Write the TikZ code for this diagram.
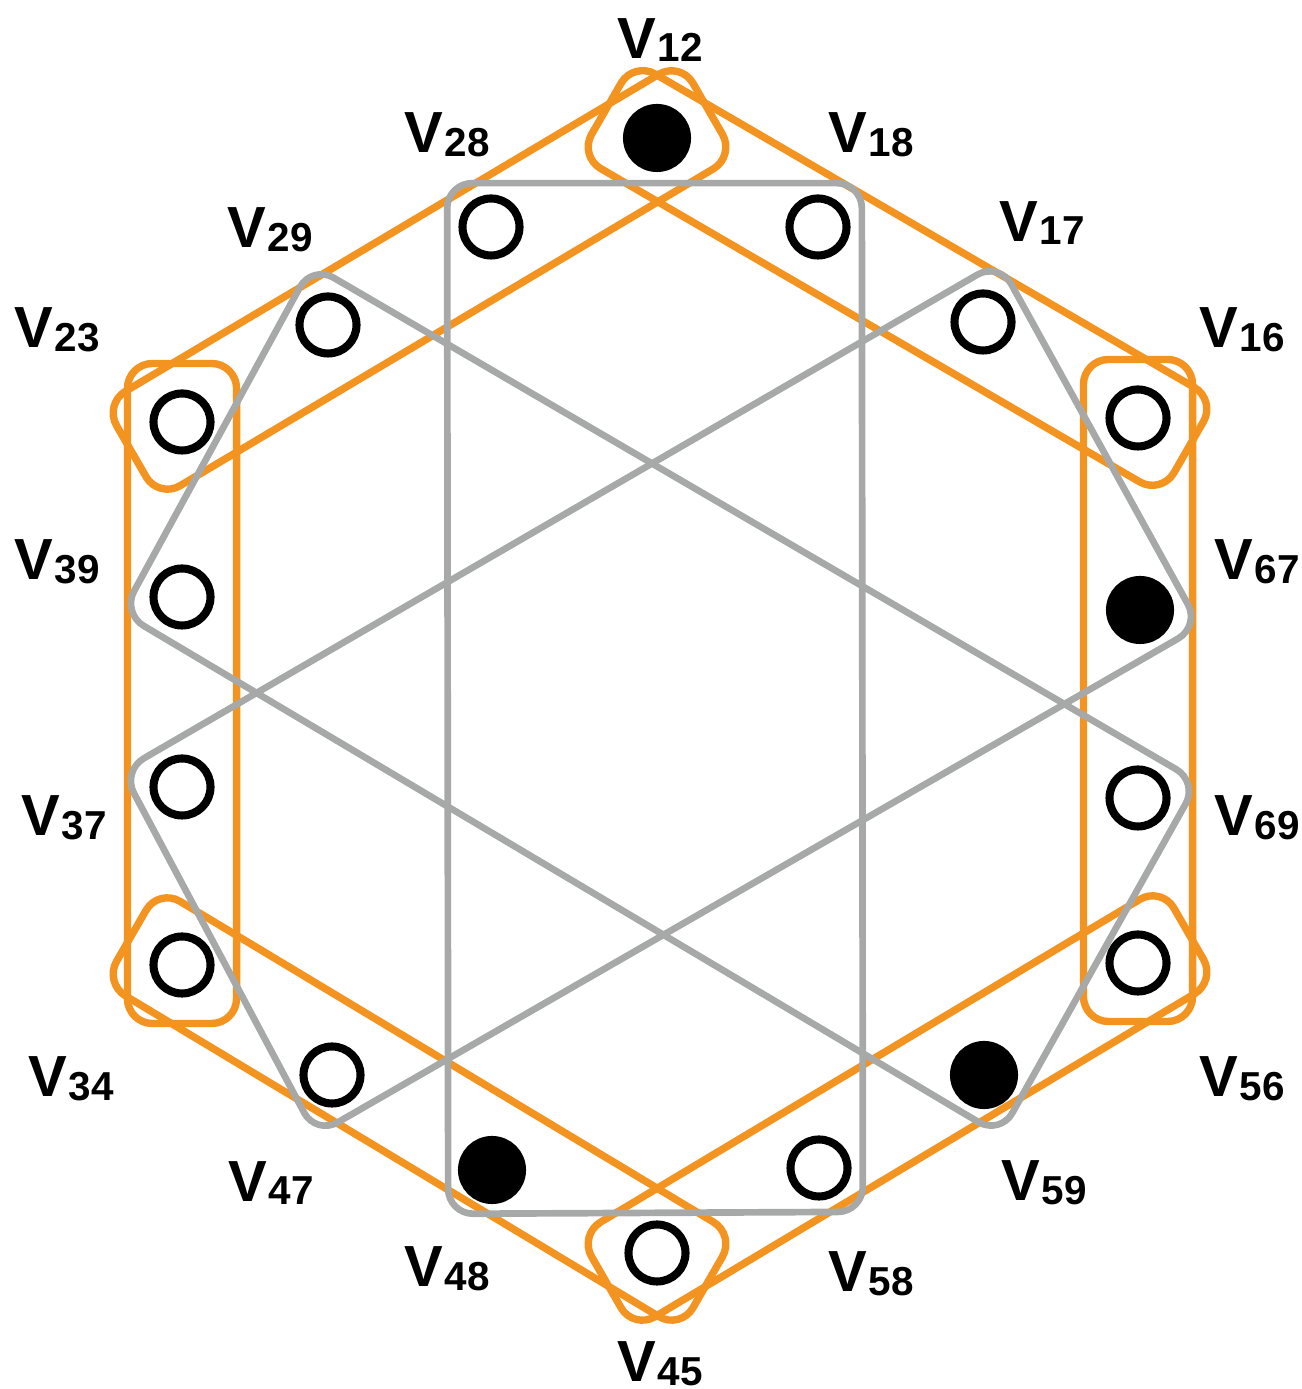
\documentclass[tikz,border=0pt]{standalone}
\usepackage{fontspec}
\setmainfont{Liberation Sans}
\usepackage{xcolor}
\usepackage{tikz}
\usetikzlibrary{calc,backgrounds}

\definecolor{hyorange}{RGB}{243,148,32}
\definecolor{hygray}{RGB}{167,169,168}
\newcommand{\vlab}[1]{{\fontsize{16.5}{17}\selectfont\bfseries V}\kern0.6pt{\fontsize{11.5}{12}\selectfont\bfseries\raisebox{-1pt}{#1}}}

\begin{document}
\begin{tikzpicture}[
  openv/.style={circle, draw=black, fill=white, line width=2.3pt,
                inner sep=0pt, minimum size=0.57cm},
  fullv/.style={openv, fill=black, minimum size=0.6cm},
  lab/.style={inner sep=0pt},
  oedge/.style={draw=hyorange, line width=2.1pt, rounded corners=0.25cm},
  gedge/.style={draw=hygray, line width=1.9pt, rounded corners=0.25cm}
]
\useasboundingbox (0,0) rectangle (13.01,13.89);

\node (v12) [fullv] at (6.57,12.51) {};
\node (v28) [openv] at (4.91,11.62) {};
\node (v18) [openv] at (8.18,11.62) {};
\node (v29) [openv] at (3.28,10.64) {};
\node (v17) [openv] at (9.83,10.67) {};
\node (v23) [openv] at (1.82,9.67) {};
\node (v16) [openv] at (11.38,9.71) {};
\node (v39) [openv] at (1.82,7.92) {};
\node (v67) [fullv] at (11.40,7.79) {};
\node (v37) [openv] at (1.82,6.02) {};
\node (v69) [openv] at (11.38,5.91) {};
\node (v34) [openv] at (1.82,4.24) {};
\node (v56) [openv] at (11.38,4.26) {};
\node (v47) [openv] at (3.32,3.14) {};
\node (v59) [fullv] at (9.84,3.14) {};
\node (v48) [fullv] at (4.92,2.19) {};
\node (v58) [openv] at (8.19,2.21) {};
\node (v45) [openv] at (6.57,1.36) {};

\node (l12) [lab] at (6.60,13.49) {\vlab{12}};
\node (l28) [lab] at (4.47,12.54) {\vlab{28}};
\node (l18) [lab] at (8.71,12.54) {\vlab{18}};
\node (l29) [lab] at (2.70,11.59) {\vlab{29}};
\node (l17) [lab] at (10.42,11.66) {\vlab{17}};
\node (l23) [lab] at (0.57,10.59) {\vlab{23}};
\node (l16) [lab] at (12.42,10.59) {\vlab{16}};
\node (l39) [lab] at (0.57,8.27) {\vlab{39}};
\node (l67) [lab] at (12.57,8.27) {\vlab{67}};
\node (l37) [lab] at (0.64,5.71) {\vlab{37}};
\node (l69) [lab] at (12.57,5.71) {\vlab{69}};
\node (l34) [lab] at (0.71,3.10) {\vlab{34}};
\node (l56) [lab] at (12.42,3.10) {\vlab{56}};
\node (l47) [lab] at (2.71,2.06) {\vlab{47}};
\node (l59) [lab] at (10.44,2.06) {\vlab{59}};
\node (l48) [lab] at (4.47,1.20) {\vlab{48}};
\node (l58) [lab] at (8.71,1.15) {\vlab{58}};
\node (l45) [lab] at (6.60,0.25) {\vlab{45}};

\begin{scope}[on background layer]
\foreach \a/\b/\r in {v23/v34/0, v12/v23/-60, v16/v12/-120,
                      v56/v16/-180, v45/v56/120, v34/v45/60}
  \draw [oedge] ($(\a)+(133+\r:0.8)$) -- ($(\a)+(47+\r:0.8)$)
    -- ($(\b)+(-47+\r:0.8)$) -- ($(\b)+(-133+\r:0.8)$) -- cycle;
\foreach \a/\b/\c/\d/\r in {v28/v18/v58/v48/0, v39/v29/v69/v59/60,
                            v17/v67/v47/v37/-60}
  \draw [gedge] ($(\a)+(135+\r:0.62)$) -- ($(\b)+(45+\r:0.62)$)
    -- ($(\c)+(-45+\r:0.62)$) -- ($(\d)+(-135+\r:0.62)$) -- cycle;
\end{scope}

\end{tikzpicture}
\end{document}
